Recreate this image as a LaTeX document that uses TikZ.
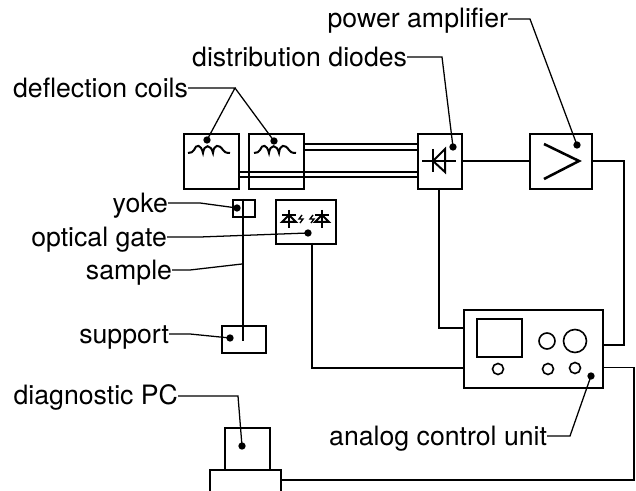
\documentclass[tikz,border=0pt]{standalone}
\usepackage{fontspec}
\setmainfont{TeX Gyre Heros}
\tikzset{
 conn/.style={line width=1.25pt},
 power/.style={line width=1.8pt},
 leader/.style={line width=0.95pt},
 sym/.style={line width=1.5pt},
 lbl/.style={font=\fontsize{20}{24}\selectfont,anchor=base east,inner sep=0pt,outer sep=0pt},
 dot/.style={circle,fill=black,inner sep=0pt,minimum size=5.5pt},
 ring/.style={circle,draw,line width=1.2pt,inner sep=0pt},
 rect/.style={draw,line width=1.8pt,rectangle,inner sep=0pt,anchor=north west},
}
\begin{document}
\begin{tikzpicture}[x=0.75pt,y=-0.75pt]
\useasboundingbox (0,0) rectangle (636,491);
% boxes
\node[rect,minimum width=41.25pt,minimum height=41.25pt] (c1) at (183,133) {};
\node[rect,minimum width=41.25pt,minimum height=41.25pt] (c2) at (248,133) {};
\node[rect,minimum width=33pt,minimum height=41.25pt] (dd) at (417,133) {};
\node[rect,minimum width=46.5pt,minimum height=41.25pt] (amp) at (529,133) {};
\node[rect,minimum width=16.5pt,minimum height=12.75pt] (yk) at (232,199) {};
\node[rect,minimum width=45pt,minimum height=33pt] (og) at (275,199) {};
\node[rect,minimum width=33pt,minimum height=20.25pt] (sp) at (221,325) {};
\node[rect,minimum width=104.25pt,minimum height=58.5pt] (cu) at (463,309) {};
\node[rect,minimum width=33.75pt,minimum height=28.5pt,line width=1.4pt] (scr) at (476,318) {};
\node[rect,minimum width=33.75pt,minimum height=31.5pt] (mon) at (224,427) {};
\node[rect,minimum width=53.25pt,minimum height=16.5pt] (base) at (209,469) {};
% knobs
\node[ring,minimum size=12pt] (k1) at (547,341) {};
\node[ring,minimum size=17.25pt] (k2) at (575,341) {};
\node[ring,minimum size=8.25pt] (k3) at (498,369) {};
\node[ring,minimum size=8.25pt] (k4) at (548,369) {};
\node[ring,minimum size=8.25pt] (k5) at (575,368) {};
% double lines
\foreach \y in {144,150}{\draw[conn] (303,\y) -- (417,\y);}
\foreach \y in {172,177}{\draw[conn] (238,\y) -- (417,\y);}
% connectors
\coordinate (s0) at (243,199);
\coordinate (s1) at (243,341);
\draw[line width=1.5pt] (s0) -- (s1);
\coordinate (g0) at (312,243);
\draw[conn] (g0) |- (463,368);
\coordinate (d0) at (439,188);
\draw[conn] (d0) |- (463,328);
\draw[power] (461,161) -- (529,161);
\draw[conn] (591,161) -- (624,161) -- (624,345) -- (602,345);
\draw[conn] (602,367.5) -- (634,367.5) -- (634,480) -- (280,480);
% coils
\foreach \x in {188,254}{
 \draw[sym] (\x,153) .. controls (\x+3,153) and (\x+5,152) .. (\x+6,150)
   .. controls (\x+8,144) and (\x+13,144) .. (\x+15,153)
   .. controls (\x+16,144) and (\x+23,144) .. (\x+25,153)
   .. controls (\x+26,144) and (\x+31,144) .. (\x+35,150)
   .. controls (\x+36,152) and (\x+38,153) .. (\x+42,153);
}
% diode
\draw[sym] (422,161) -- (456,161);
\draw[sym] (433,149) -- (433,172);
\draw[sym] (445,149) -- (433,161) -- (445,172) -- cycle;
% amp symbol
\draw[line width=1.9pt] (544,144) -- (579,161) -- (544,179);
% optical gate symbols
\foreach \x in {289,322}{
 \draw[sym] (\x,210) -- (\x,228);
 \draw[sym] (\x-7,215) -- (\x+7,215);
 \draw[sym] (\x,215) -- (\x-7,222) -- (\x+7,222) -- cycle;
}
\draw[line width=1pt] (302,215) -- (299,219) -- (303,219) -- (300,223);
\draw[line width=1pt] (313,215) -- (310,219) -- (314,219) -- (311,223);
% labels
\node[lbl] (ldc) at (188,98) {deflection coils};
\node[lbl] (ldd) at (407,67) {distribution diodes};
\node[lbl] (lpa) at (508,28) {power amplifier};
\node[lbl] (lyk) at (168,213) {yoke};
\node[lbl] (log) at (167,247) {optical gate};
\node[lbl] (lsa) at (172,280) {sample};
\node[lbl] (lsu) at (169,344) {support};
\node[lbl] (lpc) at (178,405) {diagnostic PC};
\node[lbl] (lcu) at (547,446) {analog control unit};
% dots
\node[dot] (p1) at (207,140) {};
\node[dot] (p2) at (274,141) {};
\node[dot] (p3) at (453,147) {};
\node[dot] (p4) at (577,145) {};
\node[dot] (p5) at (237,208) {};
\node[dot] (p6) at (308,233) {};
\coordinate (p7) at (242,264);
\node[dot] (p8) at (230,338) {};
\node[dot] (p9) at (242,446) {};
\node[dot] (p10) at (591,376) {};
% leaders
\coordinate (a1) at (235,88);
\draw[leader] (ldc.base east) ++(0,-10) -- (a1) -- (p1.center);
\draw[leader] (a1) -- (p2.center);
\draw[leader] (ldd.base east) ++(0,-10) -- (442,57) -- (p3.center);
\draw[leader] (lpa.base east) ++(0,-9) -- (530,19) -- (p4.center);
\draw[leader] (lyk.base east) ++(0,-10) -- (200,203) -- (p5.center);
\draw[leader] (log.base east) ++(0,-10) -- (200,237) -- (p6.center);
\draw[leader] (lsa.base east) ++(0,-10) -- (190,270) -- (p7);
\draw[leader] (lsu.base east) ++(0,-10) -- (190,334) -- (p8.center);
\draw[leader] (lpc.base east) ++(0,-9) -- (238,396) -- (p9.center);
\draw[leader] (lcu.base east) ++(0,-10) -- (570,436) -- (p10.center);
\end{tikzpicture}
\end{document}
